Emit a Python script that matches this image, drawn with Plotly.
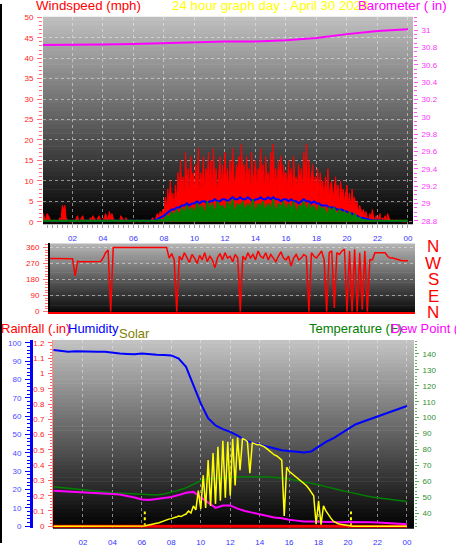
import plotly.graph_objects as go

W, H = 456, 547

# ---------------- data ----------------
hour_ticks = [2, 4, 6, 8, 10, 12, 14, 16, 18, 20, 22, 24]
hour_labels = ["02", "04", "06", "08", "10", "12", "14", "16", "18", "20", "22", "00"]

t5 = [i / 12 for i in range(289)]    # 5-minute samples (hours)
t10 = [i / 6 for i in range(145)]    # 10-minute samples (hours)
t30 = [i / 2 for i in range(49)]     # 30-minute samples (hours)
t_hourly = list(range(25))

# wind gust (mph), 5-minute samples, one row per hour
wind_gust = [
    1, 2, 1, 0.5, 2, 1.5, 1, 0, 0, 0, 0.5, 0,
    0, 0, 1, 0.5, 4, 3, 4, 1, 0.5, 0, 0, 0,
    0, 0.5, 0, 1, 1.5, 0, 0, 1, 1.5, 0.5, 0, 0.5,
    0, 0, 1, 0.5, 1.5, 1, 0.5, 0, 1, 1.5, 0.5, 0,
    0.5, 1, 2, 1, 0.5, 2.5, 1, 2, 1, 0, 0.5, 0,
    0, 0, 1.5, 1, 0.5, 0, 1, 0.5, 0, 0, 0.5, 0,
    0, 0, 0, 0.5, 0, 0, 0, 0, 0.5, 0, 0, 0,
    0, 0, 0.5, 1, 0.5, 0, 1.5, 2, 1, 2.5, 1.5, 3,
    2, 6, 3, 8, 4, 10, 5, 7, 3, 9, 5, 12,
    6, 15, 7, 11, 5, 17, 8, 13, 6, 16, 9, 12,
    7, 14, 9, 18, 6, 12, 8, 16, 7, 13, 10, 17,
    8, 15, 6, 18, 9, 13, 7, 11, 16, 8, 14, 9,
    17, 10, 13, 7, 15, 9, 18, 11, 8, 14, 12, 16,
    9, 19, 11, 14, 8, 16, 10, 13, 7, 17, 9, 12,
    15, 8, 13, 10, 18, 9, 14, 7, 16, 11, 12, 8,
    17, 10, 19, 9, 13, 7, 15, 11, 16, 8, 14, 10,
    12, 7, 15, 9, 13, 6, 16, 10, 11, 8, 14, 9,
    13, 7, 17, 10, 19, 8, 15, 9, 12, 14, 7, 11,
    9, 13, 6, 12, 8, 10, 5, 11, 7, 13, 6, 9,
    10, 5, 8, 11, 6, 9, 4, 10, 6, 8, 5, 7,
    9, 4, 7, 3, 8, 5, 6, 3, 5, 2, 4, 3,
    2, 3, 1, 2.5, 1, 0.5, 2, 1, 3, 1, 0.5, 1.5,
    0.5, 1, 2, 0, 1, 0.5, 1.5, 0, 2, 1, 0.5, 0,
    0.5, 0, 0, 0.5, 0, 0, 0.5, 0, 0, 0, 0, 0,
    0,
]

# average wind (mph), 10-minute samples
wind_avg = [
    0.2, 0.2, 0.2, 0.2, 0.2, 0.2,
    0.2, 0.2, 0.2, 0.2, 0.2, 0.2,
    0.2, 0.2, 0.2, 0.2, 0.2, 0.2,
    0.2, 0.2, 0.2, 0.2, 0.2, 0.2,
    0.2, 0.2, 0.2, 0.2, 0.2, 0.2,
    0.2, 0.2, 0.2, 0.2, 0.2, 0.2,
    0.2, 0.2, 0.2, 0.2, 0.2, 0.2,
    0.2, 0.2, 0.3, 0.5, 0.8, 1.0,
    1.5, 2, 2.5, 3, 3, 3.5,
    3.5, 4, 4, 4.5, 4, 4.5,
    4.5, 5, 4.5, 5, 5, 4.5,
    5, 5, 5.5, 5, 5, 5.5,
    5.5, 5, 5.5, 6, 5.5, 5.5,
    6, 5.5, 5.5, 6, 5.5, 5,
    5.5, 5.5, 6, 5.5, 5.5, 6,
    5.5, 6, 5.5, 5.5, 5, 5.5,
    5.5, 5, 5.5, 5, 5, 4.5,
    5, 5.5, 5, 5, 4.5, 5,
    4.5, 4.5, 4, 4, 4, 3.5,
    3.5, 3.5, 3, 3, 3, 2.5,
    2.5, 2, 2, 1.5, 1.5, 1,
    1, 0.8, 0.6, 0.5, 0.4, 0.3,
    0.3, 0.3, 0.2, 0.2, 0.2, 0.2,
    0.2, 0.2, 0.2, 0.2, 0.2, 0.2,
    0.2,
]

# wind speed (mph), 10-minute samples
wind_speed = [
    0.3, 0.3, 0.3, 0.3, 0.3, 0.3,
    0.3, 0.3, 0.3, 0.3, 0.3, 0.3,
    0.3, 0.3, 0.3, 0.3, 0.3, 0.3,
    0.3, 0.3, 0.3, 0.3, 0.3, 0.3,
    0.3, 0.3, 0.3, 0.3, 0.3, 0.3,
    0.3, 0.3, 0.3, 0.3, 0.3, 0.3,
    0.3, 0.3, 0.3, 0.3, 0.3, 0.3,
    0.3, 0.3, 0.3, 0.3, 0.5, 0.5,
    0.5, 1.5, 1, 2.5, 1.5, 3,
    1.5, 3.5, 2, 4, 2.5, 3.5,
    2, 4.5, 3, 4, 1.5, 5,
    3, 4.5, 2, 5, 3.5, 4,
    2.5, 5, 3, 5.5, 2, 4.5,
    3.5, 5, 2.5, 4.5, 3, 5.5,
    2, 4.5, 3.5, 5, 2.5, 4.5,
    3, 5.5, 2, 4.5, 3.5, 5,
    2.5, 4.5, 3, 5, 2, 4,
    3.5, 5, 2.5, 4.5, 3, 4,
    2, 4, 3, 3.5, 1.5, 3.5,
    2.5, 3.5, 1.5, 3, 2, 2.5,
    1.5, 2.5, 1, 2, 1, 1,
    0.5, 0.5, 0.3, 0.3, 0.3, 0.3,
    0.3, 0.3, 0.3, 0.3, 0.3, 0.3,
    0.3, 0.3, 0.3, 0.3, 0.3, 0.3,
    0.3,
]

# barometer (in)
baro_t = [0, 2, 4, 6, 8, 10, 12, 14, 16, 18, 20, 22, 24]
barometer = [30.83, 30.83, 30.835, 30.84, 30.85, 30.865, 30.87, 30.87,
             30.885, 30.91, 30.955, 30.99, 31.01]

# wind direction (deg), 10-minute samples
wind_dir = [
    298, 298, 298, 298, 298, 298,
    298, 298, 298, 298, 298, 297,
    296, 200, 282, 280, 280, 280,
    280, 280, 280, 280, 280, 281,
    300, 330, 345, 0, 360, 360,
    360, 360, 360, 360, 360, 360,
    360, 360, 360, 360, 360, 360,
    360, 360, 360, 360, 360, 360,
    360, 360, 300, 325, 290, 0,
    310, 290, 330, 300, 275, 320,
    300, 270, 315, 290, 330, 280,
    310, 290, 245, 300, 325, 290,
    330, 300, 310, 280, 320, 300,
    0, 310, 290, 330, 300, 320,
    290, 340, 310, 300, 330, 290,
    320, 300, 280, 310, 335, 300,
    290, 310, 255, 300, 320, 290,
    300, 320, 310, 0, 330, 310,
    300, 320, 340, 290, 0, 330,
    340, 20, 330, 320, 340, 350,
    0, 340, 0, 350, 0, 330,
    10, 340, 0, 290, 290, 330,
    330, 330, 330, 330, 310, 300,
    300, 295, 290, 288, 285, 285,
    285,
]

# rainfall (in), hourly
rainfall = [0] * 25

# humidity (%), 30-minute samples
humidity = [
    96.2, 95.5, 95.2, 95.4, 95.2, 95.2, 95.2, 95.2,
    94.6, 94.2, 94.0, 93.8, 94.3, 93.8, 93.6, 93.4,
    93.2, 91.5, 87, 77, 67, 59, 55, 53,
    51.5, 49.5, 47, 45.5, 44.5, 43.5, 42.5, 41.5,
    41, 40.5, 40.3, 40.8, 43.5, 46, 48, 50.5,
    53, 55.5, 57, 58.5, 60, 61.5, 63, 64.2,
    65.6,
]

# temperature (F), 30-minute samples
temperature = [
    56.7, 56.2, 55.6, 55.0, 54.5, 54.0, 53.8, 53.4,
    53.0, 52.8, 52.4, 52.0, 51.8, 51.6, 51.6, 52.2,
    53.2, 54.5, 56.0, 58.0, 60.5, 61.5, 62.0, 62.5,
    62.7, 62.8, 63.0, 63.0, 63.0, 62.8, 62.6, 62.2,
    61.6, 60.8, 60.0, 59.0, 58.0, 56.8, 55.5, 54.5,
    53.5, 52.5, 51.2, 50.5, 49.8, 49.2, 48.6, 48.0,
    47.5,
]

# dew point (F), 30-minute samples
dewpoint = [
    54.2, 54.0, 53.8, 53.5, 53.2, 53.0, 52.8, 52.5,
    52.2, 51.8, 51.0, 50.0, 48.8, 48.5, 49.0, 49.5,
    50.3, 51.5, 53.0, 53.5, 50.0, 46.5, 43.5, 45.0,
    45.0, 43.0, 41.5, 40.5, 39.5, 38.5, 37.5, 37.0,
    36.0, 35.5, 35.0, 35.0, 34.8, 34.6, 34.5, 34.5,
    34.6, 34.4, 34.5, 34.4, 34.3, 34.2, 34.0, 33.6,
    33.2,
]

# solar radiation, 10-minute samples
solar = [
    0, 0, 0, 0, 0, 0,
    0, 0, 0, 0, 0, 0,
    0, 0, 0, 0, 0, 0,
    0, 0, 0, 0, 0, 0,
    0, 0, 0, 0, 0, 0,
    0, 0, 0, 0, 0, 0,
    0, 3, 8, 15, 20, 25,
    30, 35, 45, 50, 60, 70,
    75, 80, 90, 100, 95, 110,
    120, 150, 130, 200, 160, 350,
    170, 500, 180, 650, 200, 720,
    220, 780, 250, 840, 280, 830,
    300, 860, 400, 870, 550, 860,
    850, 830, 520, 820, 810, 800,
    800, 790, 780, 760, 740, 720,
    700, 690, 670, 650, 100, 580,
    540, 520, 500, 480, 460, 440,
    420, 400, 370, 340, 300, 20,
    250, 15, 200, 150, 110, 80,
    50, 35, 25, 20, 15, 10,
    5, 0, 0, 0, 0, 0,
    0, 0, 0, 0, 0, 0,
    0, 0, 0, 0, 0, 0,
    0, 0, 0, 0, 0, 0,
    0,
]

# sunrise / sunset markers (hours)
sun_events = [6.2, 20.2]

# ---------------- helpers ----------------
def fx(px):
    return px / W


def fy(py):
    return 1 - py / H


FONT = "Liberation Sans, Arial, sans-serif"
GRID = "rgba(235,235,235,0.55)"

shapes = []


def gradient(x0, x1, y0, y1, c_top, c_bot, n=48):
    for k in range(n):
        f = (k + 0.5) / n
        c = int(round(c_top + (c_bot - c_top) * f))
        ya = y0 + (y1 - y0) * k / n
        yb = y0 + (y1 - y0) * (k + 1) / n + 0.6
        shapes.append(dict(type="rect", xref="paper", yref="paper",
                           x0=fx(x0), x1=fx(x1), y0=fy(yb), y1=fy(ya),
                           fillcolor=f"rgb({c},{c},{c})", line=dict(width=0),
                           layer="below"))


gradient(43, 413, 13, 223, 192, 0)
gradient(50, 415, 243, 313, 182, 8)
gradient(53, 414, 341, 532, 196, 0)

shapes.append(dict(type="line", xref="paper", yref="paper", x0=fx(1), x1=fx(1),
                   y0=0, y1=1, line=dict(color="black", width=2)))

fig = go.Figure()

# ---- top panel ----
fig.add_trace(go.Scatter(x=t5, y=wind_gust, xaxis="x", yaxis="y", mode="lines",
                         line=dict(color="#ff0000", width=1), fill="tozeroy",
                         fillcolor="#ff0000"))
fig.add_trace(go.Scatter(x=t10, y=wind_avg, xaxis="x", yaxis="y", mode="lines",
                         line=dict(color="#0000ff", width=2)))
fig.add_trace(go.Scatter(x=t10, y=wind_speed, xaxis="x", yaxis="y", mode="lines",
                         line=dict(color="#008000", width=1.5), fill="tozeroy",
                         fillcolor="#008000"))
fig.add_trace(go.Scatter(x=baro_t, y=barometer, xaxis="x", yaxis="y2", mode="lines",
                         line=dict(color="#ff00ff", width=2)))

# ---- middle panel ----
fig.add_trace(go.Scatter(x=t10, y=wind_dir, xaxis="x2", yaxis="y3", mode="lines",
                         line=dict(color="#ff0000", width=1.5)))

# ---- bottom panel ----
fig.add_trace(go.Scatter(x=t_hourly, y=rainfall, xaxis="x3", yaxis="y5", mode="lines",
                         line=dict(color="#ff0000", width=3)))
fig.add_trace(go.Scatter(x=t30, y=humidity, xaxis="x3", yaxis="y4", mode="lines",
                         line=dict(color="#0000ff", width=2)))
fig.add_trace(go.Scatter(x=t30, y=temperature, xaxis="x3", yaxis="y6", mode="lines",
                         line=dict(color="#008000", width=1.5)))
fig.add_trace(go.Scatter(x=t30, y=dewpoint, xaxis="x3", yaxis="y6", mode="lines",
                         line=dict(color="#ff00ff", width=2)))
for s in sun_events:
    fig.add_trace(go.Scatter(x=[s, s], y=[0, 8], xaxis="x3", yaxis="y4", mode="lines",
                             line=dict(color="#ffff00", width=2, dash="dot")))
fig.add_trace(go.Scatter(x=t10, y=solar, xaxis="x3", yaxis="y7", mode="lines",
                         line=dict(color="#ffff00", width=1.5)))

tick_font = dict(size=8, family=FONT)

layout = dict(
    width=W, height=H, margin=dict(l=0, r=0, t=0, b=0),
    paper_bgcolor="white", plot_bgcolor="rgba(0,0,0,0)",
    showlegend=False, font=dict(family=FONT),
    shapes=shapes,
    # top
    xaxis=dict(domain=[fx(43), fx(413)], range=[0.066, 24.33], anchor="y",
               tickmode="array", tickvals=hour_ticks, ticktext=hour_labels,
               tickfont=dict(tick_font, color="#3333ff"), ticks="outside", ticklen=3,
               tickcolor="#a0a0a0", ticklabelstandoff=4,
               minor=dict(tickmode="linear", tick0=0, dtick=1 / 3, ticks="outside",
                          ticklen=3, tickcolor="#a0a0a0"),
               showgrid=True, gridcolor=GRID, griddash="dot", zeroline=False,
               showline=False),
    yaxis=dict(domain=[fy(223), fy(13)], range=[-0.48, 50.13], anchor="x",
               tickmode="linear", tick0=0, dtick=5, tickfont=dict(tick_font, color="#ff2020"),
               ticks="outside", ticklen=5, tickcolor="#ff7070", ticklabelstandoff=2,
               minor=dict(dtick=1, ticks="outside", ticklen=3, tickcolor="#ff7070"),
               showgrid=True, gridcolor=GRID, griddash="dot", zeroline=False,
               showline=False),
    yaxis2=dict(overlaying="y", side="right", anchor="x", range=[28.766, 31.155],
                tickmode="linear", tick0=28.8, dtick=0.2,
                tickfont=dict(tick_font, color="#ff33ff"), ticks="outside", ticklen=4,
                tickcolor="#ff55ff", ticklabelstandoff=2,
                minor=dict(dtick=0.05, ticks="outside", ticklen=3, tickcolor="#ff55ff"),
                showgrid=False, zeroline=False, showline=False),
    # middle
    xaxis2=dict(domain=[fx(50), fx(415)], range=[0.52, 24.46], anchor="y3",
                showticklabels=False, ticks="", showgrid=False, zeroline=False,
                showline=True, linecolor="#ff0000", linewidth=2),
    yaxis3=dict(domain=[fy(313), fy(243)], range=[-5.54, 382.2], anchor="x2",
                tickmode="array", tickvals=[0, 90, 180, 270, 360],
                tickfont=dict(tick_font, color="#ff2020"), ticks="outside", ticklen=5,
                tickcolor="#ff7070", ticklabelstandoff=2,
                minor=dict(tickmode="linear", tick0=0, dtick=15, ticks="outside",
                           ticklen=3, tickcolor="#ff7070"),
                showgrid=True, gridcolor=GRID, griddash="dot", zeroline=False,
                showline=True, linecolor="black", linewidth=2),
    # bottom
    xaxis3=dict(domain=[fx(53), fx(414)], range=[-0.034, 24.48], anchor="y4",
                tickmode="array", tickvals=hour_ticks, ticktext=hour_labels,
                tickfont=dict(tick_font, color="#3333ff"), ticks="", ticklabelstandoff=8,
                showgrid=True, gridcolor=GRID, griddash="dot", zeroline=False,
                showline=False),
    yaxis4=dict(domain=[fy(532), fy(341)], range=[-1.075, 101.6], anchor="free",
                position=fx(31), side="left", tickmode="linear", tick0=0, dtick=10,
                tickfont=dict(tick_font, color="#4a4aff"), ticks="outside", ticklen=5,
                tickcolor="#0000ff", ticklabelstandoff=2,
                minor=dict(dtick=2, ticks="outside", ticklen=3, tickcolor="#0000ff"),
                showgrid=False, zeroline=False, showline=True, linecolor="#0000ff",
                linewidth=3),
    yaxis5=dict(overlaying="y4", anchor="free", position=fx(52), side="left",
                range=[-0.0129, 1.219], tickmode="linear", tick0=0, dtick=0.1,
                tickfont=dict(tick_font, color="#ff2020"), ticks="outside", ticklen=4,
                tickcolor="#ff6060", ticklabelstandoff=2,
                minor=dict(dtick=0.02, ticks="outside", ticklen=2, tickcolor="#ff6060"),
                showgrid=False, zeroline=False, showline=True,
                linecolor="rgba(255,90,90,0.7)", linewidth=1),
    yaxis6=dict(overlaying="y4", anchor="x3", side="right", range=[30.74, 148.64],
                tickmode="linear", tick0=40, dtick=10,
                tickfont=dict(tick_font, color="#2f8f2f"), ticks="outside", ticklen=4,
                tickcolor="#5ab05a", ticklabelstandoff=2,
                minor=dict(dtick=2, ticks="outside", ticklen=2, tickcolor="#5ab05a"),
                showgrid=False, zeroline=False, showline=False),
    yaxis7=dict(overlaying="y4", anchor="x3", range=[-19.35, 1829], visible=False),
    yaxis8=dict(overlaying="y4", anchor="x3", range=[30.74, 148.64], tickmode="linear",
                tick0=40, dtick=20, showticklabels=False, ticks="", showgrid=True,
                gridcolor=GRID, griddash="dot", zeroline=False, showline=False),
)
fig.update_layout(**layout)


def label(text, px, py, color, size, anchor="left"):
    fig.add_annotation(text=text, xref="paper", yref="paper", x=fx(px), y=fy(py),
                       xanchor=anchor, yanchor="middle", showarrow=False,
                       font=dict(family=FONT, size=size, color=color))


label("Windspeed (mph)", 34, 2, "#ff0000", 13.3)
label("24 hour graph day : April 30 2026", 170, 2, "#ffff00", 13.3)
label("Barometer ( in)", 356, 2, "#ff00ff", 13.3)

label("Rainfall (.in)", -1, 329, "#ff0000", 13)
label("Humidity", 66, 329, "#0000ff", 13)
label("Solar", 117, 334, "#808000", 13)
label("Temperature (F)", 307, 329, "#008000", 13)
label("Dew Point (F)", 389, 329, "#ff00ff", 13)

for letter, py in zip(["N", "W", "S", "E", "N"], [246, 263, 280, 297, 313]):
    label(letter, 433, py, "#ff0000", 17, anchor="center")

fig.write_html(
    "out.html",
    config={"displayModeBar": False},
    post_script="document.body.style.margin='0';document.body.style.padding='0';",
)
